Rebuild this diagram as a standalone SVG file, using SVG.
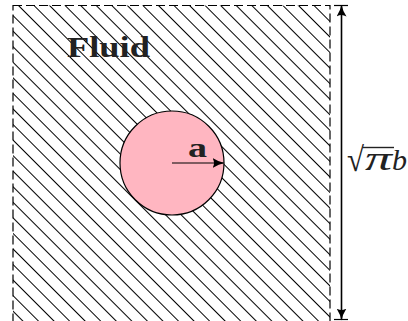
<svg xmlns="http://www.w3.org/2000/svg" width="408" height="321" viewBox="0 0 408 321">
<style>
.lbl{font-family:"Liberation Serif","DejaVu Serif",serif;fill:#222}
.conn{stroke:#000;fill:none}
</style>
<defs>
<pattern id="hatch" patternUnits="userSpaceOnUse" width="11" height="20" patternTransform="rotate(-45 13 5)">
<line x1="5.5" y1="0" x2="5.5" y2="20" stroke="#000" stroke-width="1.2" shape-rendering="crispEdges"/>
</pattern>
<marker id="arr" viewBox="0 0 12 10" refX="11" refY="5" markerWidth="12" markerHeight="10" markerUnits="userSpaceOnUse" orient="auto-start-reverse">
<path d="M0,0 Q6,4 12,5 Q6,6 0,10 Q3,5 0,0 Z" fill="#000"/>
</marker>
</defs>
<g id="fluid">
<rect x="13" y="5.5" width="317" height="316" fill="url(#hatch)"/>
<rect x="13" y="5.5" width="317" height="316" fill="none" stroke="#000" stroke-width="1.2" stroke-dasharray="9 4"/>
<text class="lbl" x="67" y="57" font-size="29" font-weight="bold" textLength="83" lengthAdjust="spacingAndGlyphs">Fluid</text>
</g>
<g id="cylinder">
<circle cx="172" cy="163" r="52" fill="#ffb6c1" stroke="#000" stroke-width="1.2"/>
<text class="lbl" x="188" y="157" font-size="28" font-weight="bold" textLength="19" lengthAdjust="spacingAndGlyphs">a</text>
</g>
<g id="connectors">
<line class="conn" x1="172" y1="163" x2="223.5" y2="163" stroke-width="1.2" marker-end="url(#arr)"/>
<line class="conn" x1="341.5" y1="5.5" x2="341.5" y2="319.5" stroke-width="1.6" marker-start="url(#arr)" marker-end="url(#arr)"/>
<line class="conn" x1="334" y1="5.5" x2="348" y2="5.5" stroke-width="1.2"/>
<line class="conn" x1="334" y1="319.5" x2="348" y2="319.5" stroke-width="1.2"/>
</g>
<g id="dim-label">
<text class="lbl" x="347" y="171" font-size="34" textLength="17" lengthAdjust="spacingAndGlyphs">√</text>
<line x1="362.5" y1="147.5" x2="394" y2="147.5" stroke="#222" stroke-width="1.4"/>
<text class="lbl" x="365" y="170" font-size="34" font-style="italic" textLength="27" lengthAdjust="spacingAndGlyphs">π</text>
<text class="lbl" x="392" y="170" font-size="30" font-style="italic" textLength="15" lengthAdjust="spacingAndGlyphs">b</text>
</g>
</svg>
